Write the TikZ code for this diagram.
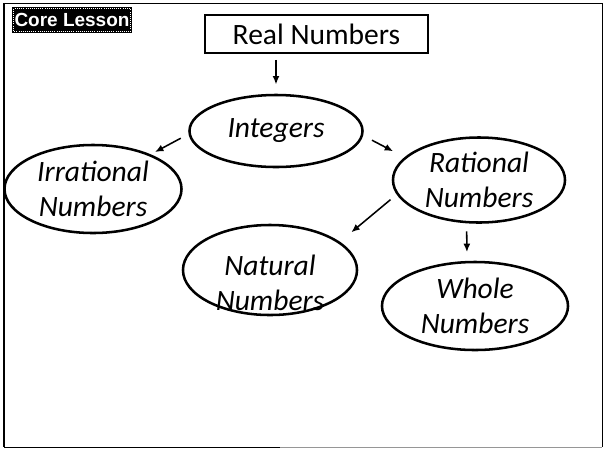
\documentclass[tikz,border=0pt]{standalone}
\usepackage{fontspec}
\setmainfont{Carlito}
\newfontfamily\badgefont{Liberation Sans}
\usetikzlibrary{arrows.meta,shapes.geometric,positioning}
\definecolor{scangray}{RGB}{150,150,150}

\begin{document}
\begin{tikzpicture}[x=0.025cm, y=-0.025cm,
  setnode/.style={ellipse, draw, line width=1.8pt, inner sep=0pt, align=center,
    font=\fontsize{21}{25}\selectfont\itshape},
  conn/.style={line width=1.1pt, -{Latex[length=6pt,width=5pt]}}]
\useasboundingbox (0,0) rectangle (605,450);
% page frame
\draw[line width=1.5pt] (4,3) -- (4,447);
\draw[line width=0.7pt] (4,3) -- (602,3) -- (602,447);
\draw[line width=0.7pt] (4,447) -- (280,447);
\draw[scangray, line width=0.7pt] (280,447) -- (602,447);
% badge
\node[fill=black, text=white, minimum width=3cm, minimum height=0.65cm, inner sep=0pt,
  font=\badgefont\bfseries\fontsize{13.5}{15}\selectfont] (badge) at (72,20) {Core Lesson};
\draw[white, densely dotted, line width=0.5pt] ([shift={(2,2)}]badge.north west) rectangle ([shift={(-2,-2)}]badge.south east);
% top box
\node[draw, line width=1pt, minimum width=5.575cm, minimum height=0.95cm, inner sep=0pt,
  font=\fontsize{21}{25}\selectfont] (real) at (316.5,34) {Real Numbers};
% the sets
\node[setnode, minimum width=4.325cm, minimum height=1.8cm] (int) at (276,131) {Integers};
\node[setnode, minimum width=4.425cm, minimum height=2.2cm] (irr) at (93,189) {Irrational\\Numbers};
\node[setnode, minimum width=4.3cm, minimum height=2.125cm] (rat) at (479,180) {Rational\\Numbers};
\node[setnode, minimum width=4.35cm, minimum height=2.25cm] (nat) at (270,270) {};
\node[align=center, inner sep=0pt, font=\fontsize{21}{25}\selectfont\itshape] (natlabel) at (270,283) {Natural\\Numbers};
\node[setnode, minimum width=4.65cm, minimum height=2.2cm] (whole) at (475,306) {Whole\\Numbers};
% connectors
\draw[conn, shorten <=4\pgflinewidth, shorten >=6\pgflinewidth] (real.south -| int.north) -- (int.north);
\draw[conn, shorten <=0.22cm, shorten >=0.12cm] (int.182) -- (irr.31);
\draw[conn, shorten <=0.25cm, shorten >=0.32cm] (int.-3) -- (rat.163);
\draw[conn, shorten <=0.2cm, shorten >=0.37cm] (rat.190) -- (nat.22);
\draw[conn, shorten <=0.2cm, shorten >=0.22cm] (rat.254) -- (whole.100);
\end{tikzpicture}
\end{document}
